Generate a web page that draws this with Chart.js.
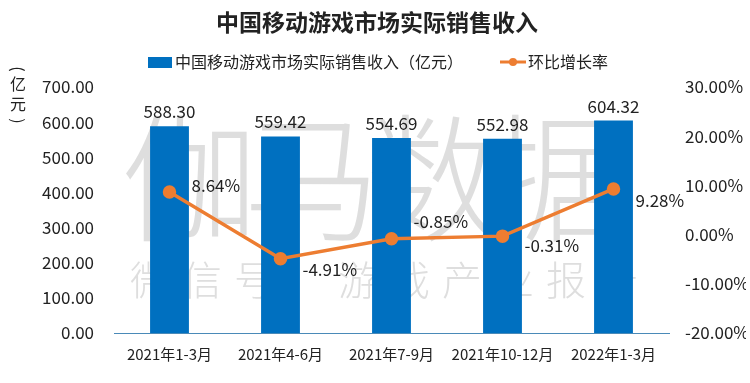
<!DOCTYPE html>
<html>
<head>
<meta charset="utf-8">
<script src="https://cdn.jsdelivr.net/npm/chart.js@4.4.1/dist/chart.umd.min.js"></script>
<style>
  html, body { margin: 0; padding: 0; background: #fff; }
  #wrap { width: 750px; height: 383px; }
</style>
</head>
<body>
<div id="wrap"><canvas id="c" width="750" height="383"></canvas></div>
<script>
const categories = ['2021年1-3月', '2021年4-6月', '2021年7-9月', '2021年10-12月', '2022年1-3月'];
const revenue = [588.30, 559.42, 554.69, 552.98, 604.32];
const growth = [8.64, -4.91, -0.85, -0.31, 9.28];
const leftTicks = [0, 100, 200, 300, 400, 500, 600, 700];
const rightTicks = [-20, -10, 0, 10, 20, 30];
// vertical nudge of each growth label relative to its point
const growthLabelDy = [-7, 11, -17, 9, 12];

const FONT = '"Noto Sans CJK SC", "Noto Sans", sans-serif';
const BLUE = '#0070C0';
const ORANGE = '#ED7D31';
const TEXT = '#222';

// watermark, axis title, legend, title and value labels
const decor = {
  id: 'decor',
  beforeDatasetsDraw(chart) {
    const ctx = chart.ctx;
    ctx.save();
    ctx.fillStyle = 'rgba(190,190,190,0.5)';
    ctx.textAlign = 'center';
    ctx.textBaseline = 'middle';
    ctx.font = '300 138px ' + FONT;
    const big = '伽马数据';
    for (let i = 0; i < big.length; i++) ctx.fillText(big[i], 190 + i * 122, 178);
    ctx.font = '300 40px ' + FONT;
    const small = '微信号：游戏产业报告';
    for (let i = 0; i < small.length; i++) ctx.fillText(small[i], 150 + i * 52, 280);
    ctx.restore();
  },
  afterDraw(chart) {
    const ctx = chart.ctx;
    ctx.save();
    ctx.fillStyle = TEXT;
    ctx.textAlign = 'center';
    ctx.textBaseline = 'middle';
    // title
    ctx.font = 'bold 23px ' + FONT;
    ctx.fillText('中国移动游戏市场实际销售收入', 377, 22);
    // y title (vertical, brackets turned)
    ctx.font = '16px ' + FONT;
    ctx.fillText('亿', 18, 84);
    ctx.fillText('元', 18, 104);
    [[69, '('], [121, ')']].forEach(([y, ch]) => {
      ctx.save();
      ctx.translate(18, y);
      ctx.rotate(Math.PI / 2);
      ctx.fillText(ch, 0, 0);
      ctx.restore();
    });
    // legend
    ctx.fillStyle = BLUE;
    ctx.fillRect(148, 57, 24, 11);
    ctx.fillStyle = TEXT;
    ctx.textAlign = 'left';
    ctx.font = '16px ' + FONT;
    ctx.fillText('中国移动游戏市场实际销售收入（亿元）', 175, 62);
    ctx.strokeStyle = ORANGE;
    ctx.lineWidth = 3;
    ctx.beginPath();
    ctx.moveTo(500, 62);
    ctx.lineTo(526, 62);
    ctx.stroke();
    ctx.fillStyle = ORANGE;
    ctx.beginPath();
    ctx.arc(513, 62, 4, 0, Math.PI * 2);
    ctx.fill();
    ctx.fillStyle = TEXT;
    ctx.fillText('环比增长率', 528, 62);

    const barMeta = chart.getDatasetMeta(1);
    const lineMeta = chart.getDatasetMeta(0);
    // bar value labels
    ctx.font = '17px ' + FONT;
    ctx.textAlign = 'center';
    ctx.textBaseline = 'bottom';
    barMeta.data.forEach((bar, i) => {
      ctx.fillText(revenue[i].toFixed(2), bar.x, bar.y - 6);
    });
    // line labels
    ctx.textAlign = 'left';
    ctx.textBaseline = 'middle';
    lineMeta.data.forEach((pt, i) => {
      ctx.fillText(growth[i].toFixed(2) + '%', pt.x + 22, pt.y + growthLabelDy[i]);
    });
    ctx.restore();
  }
};

new Chart(document.getElementById('c'), {
  data: {
    labels: categories,
    datasets: [
      {
        type: 'line',
        label: '环比增长率',
        data: growth,
        yAxisID: 'y1',
        borderColor: ORANGE,
        backgroundColor: ORANGE,
        borderWidth: 3.5,
        pointRadius: 5,
        pointHoverRadius: 5,
        tension: 0,
        order: 0
      },
      {
        type: 'bar',
        label: '中国移动游戏市场实际销售收入（亿元）',
        data: revenue,
        yAxisID: 'y',
        backgroundColor: BLUE,
        barPercentage: 0.7,
        categoryPercentage: 0.5,
        order: 1
      }
    ]
  },
  plugins: [decor],
  options: {
    responsive: false,
    animation: false,
    devicePixelRatio: 1,
    layout: { padding: { top: 87, right: 4, bottom: 8, left: 0 } },
    plugins: {
      legend: { display: false },
      title: { display: false },
      tooltip: { enabled: false }
    },
    scales: {
      x: {
        grid: { display: false, drawTicks: false },
        border: { display: true, color: '#4a8ab8', width: 1 },
        ticks: { color: TEXT, font: { family: FONT, size: 15 }, padding: 12, maxRotation: 0, autoSkip: false }
      },
      y: {
        position: 'left',
        min: 0,
        max: 700,
        afterBuildTicks(axis) { axis.ticks = leftTicks.map(v => ({ value: v })); },
        afterFit(axis) { axis.width = 114; },
        grid: { display: false, drawTicks: false },
        border: { display: false },
        ticks: {
          color: TEXT,
          font: { family: FONT, size: 17 },
          padding: 20,
          callback: v => v.toFixed(2)
        }
      },
      y1: {
        position: 'right',
        min: -20,
        max: 30,
        afterBuildTicks(axis) { axis.ticks = rightTicks.map(v => ({ value: v })); },
        afterFit(axis) { axis.width = 77; },
        grid: { display: false, drawTicks: false },
        border: { display: false },
        ticks: {
          color: TEXT,
          font: { family: FONT, size: 17 },
          padding: 16,
          callback: v => v.toFixed(2) + '%'
        }
      }
    }
  }
});
</script>
</body>
</html>
